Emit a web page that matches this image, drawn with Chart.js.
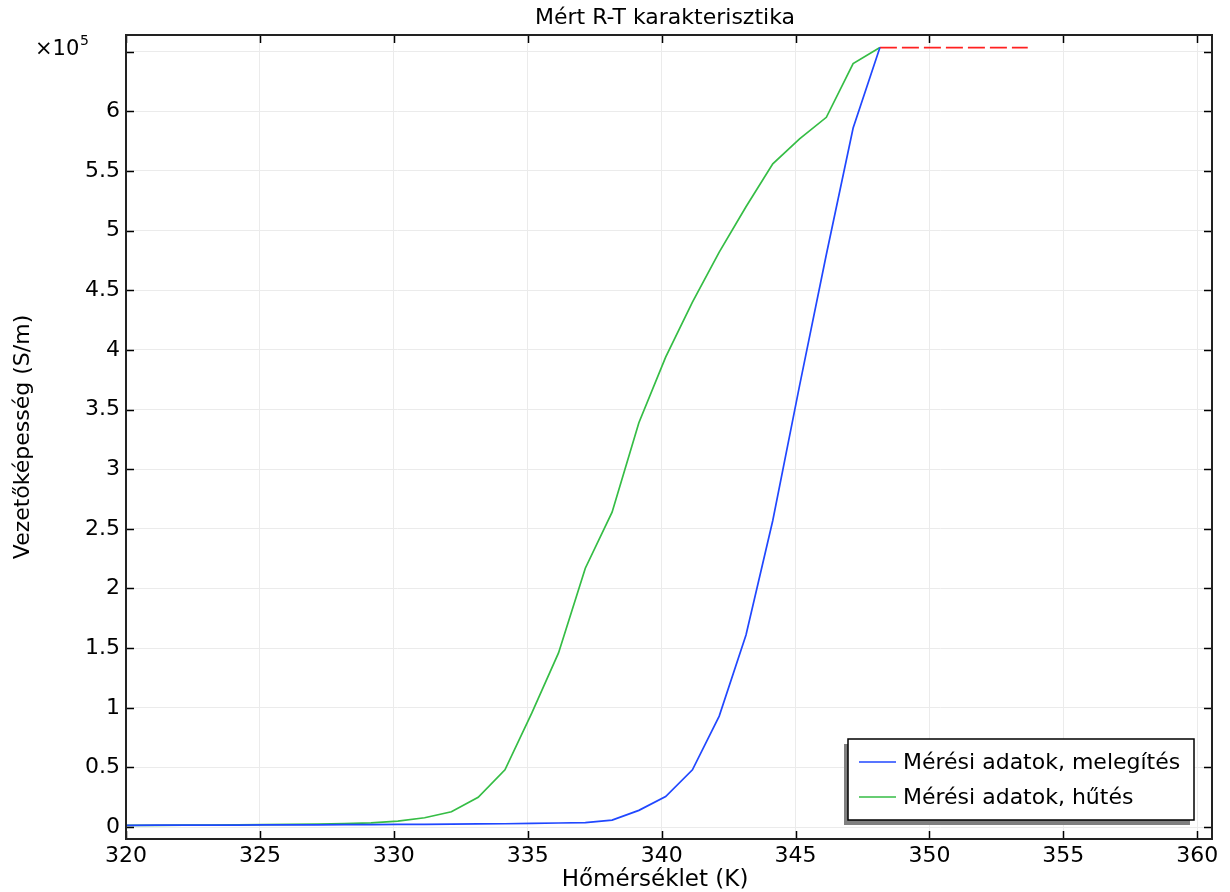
<!DOCTYPE html>
<html>
<head>
<meta charset="utf-8">
<title>Mért R-T karakterisztika</title>
<script src="https://cdn.jsdelivr.net/npm/chart.js@4.4.1/dist/chart.umd.min.js"></script>
<style>
  html, body { margin: 0; padding: 0; background: #fff; }
  canvas { display: block; }
</style>
</head>
<body>
<canvas id="rtChart" width="1230" height="892"></canvas>
<script>
// hőmérséklet (K) = 46..75 °C
const temperatureK = [
  319.15, 320.15, 321.15, 322.15, 323.15, 324.15, 325.15, 326.15, 327.15, 328.15, 329.15,
  330.15, 331.15, 332.15, 333.15, 334.15, 335.15, 336.15, 337.15, 338.15, 339.15,
  340.15, 341.15, 342.15, 343.15, 344.15, 345.15, 346.15, 347.15, 348.15
];

// vezetőképesség, x10^5 S/m
const heatingSigma = [
  0.015, 0.015, 0.016, 0.016, 0.017, 0.017, 0.018, 0.018, 0.019, 0.020, 0.021,
  0.022, 0.023, 0.024, 0.026, 0.028, 0.031, 0.034, 0.038, 0.058, 0.14,
  0.256, 0.48, 0.93, 1.61, 2.57, 3.7, 4.8, 5.86, 6.535
];
const coolingSigma = [
  0.014, 0.014, 0.015, 0.016, 0.017, 0.018, 0.020, 0.022, 0.025, 0.029, 0.036,
  0.05, 0.078, 0.128, 0.25, 0.48, 0.955, 1.46, 2.17, 2.64, 3.39,
  3.94, 4.40, 4.82, 5.20, 5.56, 5.77, 5.95, 6.40, 6.535
];

// piros szaggatott vonal
const limitK = [348.15, 353.67];
const limitSigma = [6.535, 6.535];

const xTicks = [320, 325, 330, 335, 340, 345, 350, 355, 360];
const seriesLabels = ['Mérési adatok, melegítés', 'Mérési adatok, hűtés'];

const FONT = '"DejaVu Sans", sans-serif';

function toPoints(xs, ys) {
  return xs.map((x, i) => ({ x: x, y: ys[i] }));
}

const decorations = {
  id: 'decorations',
  afterDraw(chart) {
    const { ctx, chartArea: a, scales: { x, y } } = chart;
    ctx.save();

    // befelé mutató osztásjelek
    ctx.strokeStyle = '#000';
    ctx.lineWidth = 1.5;
    ctx.beginPath();
    x.ticks.forEach(t => {
      const px = Math.round(x.getPixelForValue(t.value)) + 0.5;
      ctx.moveTo(px, a.bottom); ctx.lineTo(px, a.bottom - 8);
      ctx.moveTo(px, a.top); ctx.lineTo(px, a.top + 8);
    });
    y.ticks.forEach(t => {
      const py = Math.round(y.getPixelForValue(t.value)) + 0.5;
      ctx.moveTo(a.left, py); ctx.lineTo(a.left + 8, py);
      ctx.moveTo(a.right, py); ctx.lineTo(a.right - 8, py);
    });
    ctx.stroke();

    // keret
    ctx.strokeStyle = '#222';
    ctx.lineWidth = 2;
    ctx.strokeRect(a.left, a.top, a.right - a.left, a.bottom - a.top);

    // cím
    ctx.fillStyle = '#000';
    ctx.textAlign = 'center';
    ctx.textBaseline = 'middle';
    ctx.font = '22px ' + FONT;
    ctx.fillText('Mért R-T karakterisztika', 665, 18);

    // x tengely címe
    ctx.font = '23px ' + FONT;
    ctx.fillText('Hőmérséklet (K)', 655, 880);

    // szorzó
    ctx.textAlign = 'left';
    ctx.textBaseline = 'alphabetic';
    ctx.font = '21px ' + FONT;
    ctx.fillText('×10', 35, 55);
    ctx.font = '14px ' + FONT;
    ctx.fillText('5', 80, 45);

    // jelmagyarázat
    const lx = 848, ly = 739, lw = 346, lh = 81;
    ctx.fillStyle = '#808080';
    ctx.fillRect(lx - 4, ly + 5, lw, lh);
    ctx.fillStyle = '#fff';
    ctx.fillRect(lx, ly, lw, lh);
    ctx.strokeStyle = '#000';
    ctx.lineWidth = 1.5;
    ctx.strokeRect(lx, ly, lw, lh);

    ctx.font = '22px ' + FONT;
    ctx.textBaseline = 'middle';
    chart.data.datasets.slice(0, 2).forEach((ds, i) => {
      const yy = ly + 23 + i * 35;
      ctx.strokeStyle = ds.borderColor;
      ctx.lineWidth = 1.5;
      ctx.beginPath();
      ctx.moveTo(859, yy);
      ctx.lineTo(896, yy);
      ctx.stroke();
      ctx.fillStyle = '#000';
      ctx.fillText(ds.label, 903, yy + 1);
    });

    ctx.restore();
  }
};

new Chart(document.getElementById('rtChart'), {
  type: 'line',
  data: {
    datasets: [
      {
        label: seriesLabels[0],
        data: toPoints(temperatureK, heatingSigma),
        borderColor: '#2047ff',
        borderWidth: 1.7,
        pointRadius: 0,
        tension: 0
      },
      {
        label: seriesLabels[1],
        data: toPoints(temperatureK, coolingSigma),
        borderColor: '#35bd45',
        borderWidth: 1.7,
        pointRadius: 0,
        tension: 0
      },
      {
        label: 'limit',
        data: toPoints(limitK, limitSigma),
        borderColor: '#ff2020',
        borderWidth: 1.8,
        borderDash: [17, 5],
        pointRadius: 0
      }
    ]
  },
  options: {
    responsive: false,
    devicePixelRatio: 1,
    animation: false,
    layout: { padding: { top: 35, right: 18, left: 0, bottom: 0 } },
    plugins: {
      legend: { display: false },
      title: { display: false },
      tooltip: { enabled: false }
    },
    scales: {
      x: {
        type: 'linear',
        min: 320,
        max: 360.55,
        afterBuildTicks: scale => {
          scale.ticks = xTicks.map(v => ({ value: v }));
        },
        ticks: {
          color: '#000',
          font: { family: FONT, size: 22 },
          padding: 4,
          maxRotation: 0,
          callback: v => String(v)
        },
        grid: { color: '#ebebeb', lineWidth: 1, drawTicks: false },
        border: { display: false },
        afterFit: scale => { scale.height = 53; }
      },
      y: {
        type: 'linear',
        min: -0.1,
        max: 6.64,
        ticks: {
          stepSize: 0.5,
          includeBounds: false,
          color: '#000',
          font: { family: FONT, size: 22 },
          padding: 6,
          callback: v => (Math.abs(v - 6.5) < 1e-9 ? '' : String(v))
        },
        grid: { color: '#ebebeb', lineWidth: 1, drawTicks: false },
        border: { display: false },
        title: {
          display: true,
          text: 'Vezetőképesség (S/m)',
          color: '#000',
          font: { family: FONT, size: 22 },
          padding: { top: 10, bottom: 0 }
        },
        afterFit: scale => { scale.width = 126; }
      }
    }
  },
  plugins: [decorations]
});
</script>
</body>
</html>
